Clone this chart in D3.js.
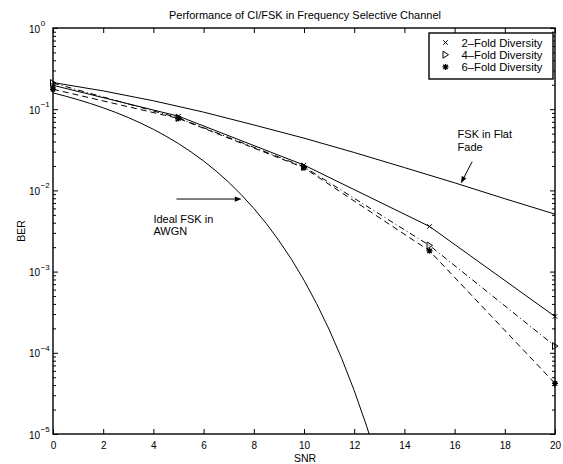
<!DOCTYPE html>
<html>
<head>
<meta charset="utf-8">
<script src="https://cdn.jsdelivr.net/npm/d3@7"></script>
<style>
  body { margin: 0; background: #fff; }
  svg { display: block; font-family: "Liberation Sans", Arial, Helvetica, sans-serif; }
</style>
</head>
<body>
<svg id="chart"></svg>
<script>
// data
const snrIdeal = [0, 0.5, 1, 1.5, 2, 2.5, 3, 3.5, 4, 4.5, 5, 5.5, 6, 6.5, 7, 7.5, 8, 8.5, 9, 9.5, 10, 10.5, 11, 11.5, 12, 12.5, 13];
const berIdeal = [0.1587, 0.1447, 0.1309, 0.1173, 0.104, 0.0912, 0.0789, 0.0673, 0.0565, 0.0466, 0.0377, 0.0298, 0.023, 0.0173, 0.0126, 0.00886, 0.006, 0.0039, 0.00241, 0.00142, 7.83e-4, 4.04e-4, 1.94e-4, 8.55e-5, 3.43e-5, 1.24e-5, 3.97e-6];

const snrFlat = [0, 2, 4, 6, 8, 10, 12, 14, 16, 18, 20];
const berFlat = [0.213, 0.168, 0.127, 0.092, 0.064, 0.044, 0.0293, 0.0191, 0.0124, 0.0079, 0.0051];

const snrDiv = [0, 5, 10, 15, 20];
const ber2Fold = [0.197, 0.082, 0.0205, 0.0036, 0.00028];
const ber4Fold = [0.21, 0.078, 0.0195, 0.0021, 0.000121];
const ber6Fold = [0.176, 0.077, 0.019, 0.0018, 0.000042];

const xTicks = [0, 2, 4, 6, 8, 10, 12, 14, 16, 18, 20];
const yDecades = [0, -1, -2, -3, -4, -5];

const legendLabels = ["2\u2013Fold Diversity", "4\u2013Fold Diversity", "6\u2013Fold Diversity"];

const width = 563;
const height = 464;
const margin = { top: 28, right: 8, bottom: 30, left: 53 };
const boundedWidth = width - margin.left - margin.right;
const boundedHeight = height - margin.top - margin.bottom;

const svg = d3.select("#chart")
  .attr("width", width)
  .attr("height", height);

const g = svg.append("g")
  .attr("transform", `translate(${margin.left}, ${margin.top})`);

const xScale = d3.scaleLinear().domain([0, 20]).range([0, boundedWidth]);
const yScale = d3.scaleLog().domain([1e-5, 1]).range([boundedHeight, 0]);

g.append("clipPath").attr("id", "clip")
  .append("rect").attr("width", boundedWidth).attr("height", boundedHeight);

// minor y ticks
const minors = [];
for (let e = -5; e < 0; e++) for (let m = 2; m <= 9; m++) minors.push(m * Math.pow(10, e));

//x axis (ticks inside)
g.append("g")
  .attr("class", "xaxis")
  .attr("transform", `translate(0, ${boundedHeight})`)
  .call(d3.axisBottom(xScale).tickValues(xTicks).tickSize(-5).tickPadding(8).tickFormat(d3.format("d")))
  .call(a => a.select(".domain").remove())
  .call(a => a.selectAll("text").attr("fill", "#000").style("font-size", "10px").style("font-family", "Liberation Sans, Arial, sans-serif"));

g.append("g")
  .call(d3.axisTop(xScale).tickValues(xTicks).tickSize(-5).tickFormat(""))
  .call(a => a.select(".domain").remove());

//y axis ticks, left and right
[[d3.axisLeft, 0], [d3.axisRight, boundedWidth]].forEach(([ax, tx]) => {
  g.append("g")
    .attr("transform", `translate(${tx}, 0)`)
    .call(ax(yScale).tickValues(yDecades.map(k => Math.pow(10, k))).tickSize(-5).tickFormat(""))
    .call(a => a.select(".domain").remove());
  g.append("g")
    .attr("transform", `translate(${tx}, 0)`)
    .call(ax(yScale).tickValues(minors).tickSize(-3).tickFormat(""))
    .call(a => a.select(".domain").remove());
});

// y tick labels 10^k
const yLab = g.selectAll(".ylab")
  .data(yDecades)
  .enter()
  .append("text")
  .attr("class", "ylab")
  .attr("x", -24)
  .attr("y", d => yScale(Math.pow(10, d)) + 4.5)
  .style("font-size", "10px");
yLab.append("tspan").text("10");
yLab.append("tspan")
  .attr("dx", 0.5)
  .attr("dy", -6.5)
  .style("font-size", "8px")
  .text(d => d === 0 ? "0" : "\u2212" + (-d));

// box
g.append("rect")
  .attr("width", boundedWidth)
  .attr("height", boundedHeight)
  .attr("fill", "none")
  .attr("stroke", "#000")
  .attr("stroke-width", 1.4);

const line = d3.line().x(d => xScale(d[0])).y(d => yScale(d[1]));
const zip = (xs, ys) => xs.map((x, i) => [x, ys[i]]);

const curves = [
  { pts: zip(snrIdeal, berIdeal), dash: null },
  { pts: zip(snrFlat, berFlat), dash: null },
  { pts: zip(snrDiv, ber2Fold), dash: null },
  { pts: zip(snrDiv, ber4Fold), dash: "6,3,1,3" },
  { pts: zip(snrDiv, ber6Fold), dash: "6,4" }
];

g.append("g").attr("clip-path", "url(#clip)")
  .selectAll("path")
  .data(curves)
  .enter()
  .append("path")
  .attr("d", d => line(d.pts))
  .attr("fill", "none")
  .attr("stroke", "#000")
  .attr("stroke-width", 1)
  .attr("stroke-dasharray", d => d.dash);

// marker shapes
const markerPath = {
  x: "M-2.2,-2.2L2.2,2.2M-2.2,2.2L2.2,-2.2",
  tri: "M-2.5,-3.5L3,0L-2.5,3.5Z",
  star: "M-3,0L3,0M0,-3L0,3M-2.2,-2.2L2.2,2.2M-2.2,2.2L2.2,-2.2"
};

const markerSets = [
  { shape: "x", data: zip(snrDiv, ber2Fold) },
  { shape: "tri", data: zip(snrDiv, ber4Fold) },
  { shape: "star", data: zip(snrDiv, ber6Fold) }
];

markerSets.forEach(ms => {
  g.selectAll(`.m-${ms.shape}`)
    .data(ms.data)
    .enter()
    .append("path")
    .attr("class", `m-${ms.shape}`)
    .attr("transform", d => `translate(${xScale(d[0])}, ${yScale(d[1])})`)
    .attr("d", markerPath[ms.shape])
    .attr("fill", "none")
    .attr("stroke", "#000")
    .attr("stroke-width", ms.shape === "star" ? 1.3 : 1);
});

// legend
const legend = g.append("g").attr("transform", `translate(${boundedWidth - 126}, 5)`);
legend.append("rect")
  .attr("width", 124)
  .attr("height", 46)
  .attr("fill", "#fff")
  .attr("stroke", "#000")
  .attr("stroke-width", 1.4);
markerSets.forEach((ms, i) => {
  legend.append("path")
    .attr("transform", `translate(16.5, ${9.5 + i * 12.2})`)
    .attr("d", markerPath[ms.shape])
    .attr("fill", "none")
    .attr("stroke", "#000")
    .attr("stroke-width", ms.shape === "star" ? 1.3 : 1);
  legend.append("text")
    .attr("x", 32.5)
    .attr("y", 13.5 + i * 12.2)
    .style("font-size", "11.3px")
    .text(legendLabels[i]);
});

// annotations
function arrow(x1, y1, x2, y2) {
  const px1 = xScale(x1), py1 = yScale(y1), px2 = xScale(x2), py2 = yScale(y2);
  const ang = Math.atan2(py2 - py1, px2 - px1);
  const L = 7, W = 2.6;
  g.append("line")
    .attr("x1", px1).attr("y1", py1)
    .attr("x2", px2 - Math.cos(ang) * L).attr("y2", py2 - Math.sin(ang) * L)
    .attr("stroke", "#000").attr("stroke-width", 1);
  const bx = px2 - Math.cos(ang) * L, by = py2 - Math.sin(ang) * L;
  g.append("path")
    .attr("d", `M${px2},${py2}L${bx - Math.sin(ang) * W},${by + Math.cos(ang) * W}L${bx + Math.sin(ang) * W},${by - Math.cos(ang) * W}Z`)
    .attr("fill", "#000");
}

function label(x, y, lines) {
  const t = g.append("text")
    .attr("x", xScale(x))
    .attr("y", yScale(y))
    .style("font-size", "11px");
  lines.forEach((s, i) => t.append("tspan").attr("x", xScale(x)).attr("dy", i === 0 ? 0 : 12.7).text(s));
}

arrow(4.92, 7.83e-3, 7.52, 7.83e-3);
label(4.0, 4.0e-3, ["Ideal FSK in", "AWGN"]);

arrow(16.7, 0.0226, 16.25, 0.01223);
label(16.12, 0.0442, ["FSK in Flat", "Fade"]);

// titles
svg.append("text")
  .attr("x", margin.left + boundedWidth / 2 + 1)
  .attr("y", 19)
  .attr("text-anchor", "middle")
  .style("font-size", "11px")
  .text("Performance of CI/FSK in Frequency Selective Channel");

svg.append("text")
  .attr("x", margin.left + boundedWidth / 2 + 1)
  .attr("y", 461.5)
  .attr("text-anchor", "middle")
  .style("font-size", "10.5px")
  .text("SNR");

svg.append("text")
  .attr("transform", `translate(24.5, ${margin.top + boundedHeight / 2}) rotate(-90)`)
  .attr("text-anchor", "middle")
  .style("font-size", "10.5px")
  .text("BER");
</script>
</body>
</html>
